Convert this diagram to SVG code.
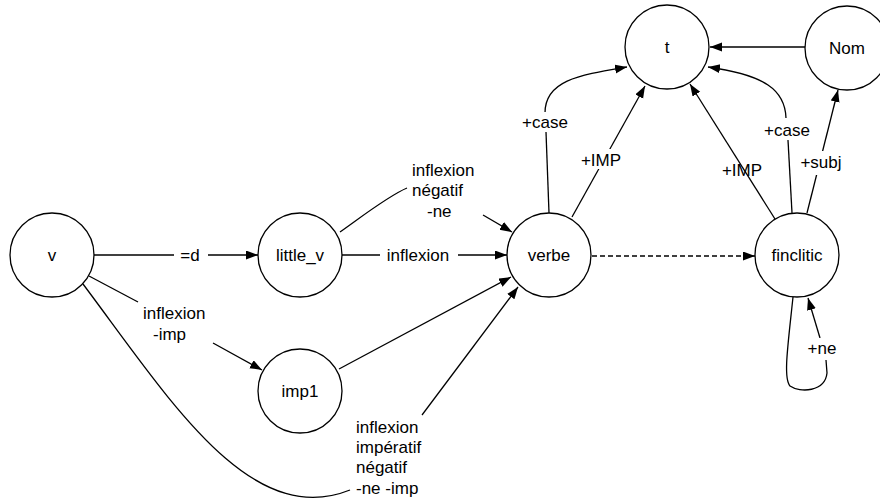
<svg xmlns="http://www.w3.org/2000/svg" width="880" height="503" viewBox="0 0 880 503">
<style>
.n{fill:#fff;stroke:#000;stroke-width:1.3}
.t{font-family:"Liberation Sans",Arial,sans-serif;font-size:17px;fill:#000}
.c{text-anchor:middle}
.e{fill:none;stroke:#000;stroke-width:1.3}
.a{marker-end:url(#arr)}
.bg{fill:#fff;stroke:none}
</style>
<defs>
<marker id="arr" markerUnits="userSpaceOnUse" markerWidth="13" markerHeight="10" refX="12" refY="4.5" orient="auto">
<path d="M0,0 L12,4.5 L0,9 z" fill="#000"/>
</marker>
</defs>
<rect width="880" height="503" fill="#fff"/>
<g id="connectors">
<path class="e" d="M94,255 H174"/>
<path class="e a" d="M208,255 H258"/>
<path class="e" d="M342,255 H380"/>
<path class="e a" d="M458,255 H507"/>
<path class="e" d="M340,232 C360,218 388,196 407,188"/>
<path class="e a" d="M483,215 L512,232"/>
<path class="e" d="M89,276 L138,302"/>
<path class="e a" d="M213,343 L262,370"/>
<path class="e a" d="M339,369 L511,277"/>
<path class="e" d="M83,284 C170,400 250,530 350,490"/>
<path class="e a" d="M422,415 L518,287"/>
<path class="e" d="M549,213 L546,132"/>
<path class="e a" d="M545,113 C545,80 580,75 627,67"/>
<path class="e a" d="M572,217 L645,86"/>
<path class="e" d="M792,213 L788,140"/>
<path class="e a" d="M786,118 C785,90 765,75 708,67"/>
<path class="e a" d="M807,213 L838,90"/>
<path class="e a" d="M806,47 L710,47"/>
<path class="e a" d="M592,256 L755,256" stroke-dasharray="5 3"/>
<path class="e" d="M793,297 C788,345 783,378 790,386 C800,393 825,392 827,373 L826,360"/>
<path class="e a" d="M820,338 L808,298"/>
</g>
<g id="edge-labels">
<text class="t c" x="190" y="261">=d</text>
<text class="t c" x="418" y="261">inflexion</text>
<text class="t" x="412" y="176">inflexion</text>
<text class="t" x="412" y="196">négatif</text>
<text class="t" x="427" y="217">-ne</text>
<text class="t" x="143" y="319">inflexion</text>
<text class="t" x="153" y="340">-imp</text>
<text class="t" x="356" y="433">inflexion</text>
<text class="t" x="356" y="453">impératif</text>
<text class="t" x="356" y="473">négatif</text>
<text class="t" x="356" y="494">-ne -imp</text>
<rect class="bg" x="522" y="112" width="46" height="20"/>
<text class="t c" x="545" y="128">+case</text>
<rect class="bg" x="580" y="149" width="42" height="20"/>
<text class="t c" x="601" y="166">+IMP</text>
<rect class="bg" x="764" y="120" width="46" height="20"/>
<text class="t c" x="787" y="136">+case</text>
<rect class="bg" x="801" y="151" width="40" height="24"/>
<text class="t c" x="821" y="168">+subj</text>
<rect class="bg" x="808" y="338" width="28" height="20"/>
<text class="t c" x="822" y="354">+ne</text>
<text class="t c" x="742" y="176">+IMP</text>
<path class="e a" d="M775,219 L690,84" stroke-width="1.6"/>
</g>
<g id="node-v"><circle class="n" cx="52" cy="255" r="42"/><text class="t c" x="52" y="261">v</text></g>
<g id="node-little_v"><circle class="n" cx="300" cy="255" r="42"/><text class="t c" x="300" y="261">little_v</text></g>
<g id="node-imp1"><circle class="n" cx="300" cy="391" r="42"/><text class="t c" x="300" y="397">imp1</text></g>
<g id="node-verbe"><circle class="n" cx="549" cy="255" r="42"/><text class="t c" x="549" y="261">verbe</text></g>
<g id="node-finclitic"><circle class="n" cx="797" cy="255" r="42"/><text class="t c" x="797" y="261">finclitic</text></g>
<g id="node-t"><circle class="n" cx="667" cy="47" r="42"/><text class="t c" x="667" y="53">t</text></g>
<g id="node-Nom"><circle class="n" cx="847" cy="48" r="42"/><text class="t c" x="847" y="54">Nom</text></g>
</svg>
